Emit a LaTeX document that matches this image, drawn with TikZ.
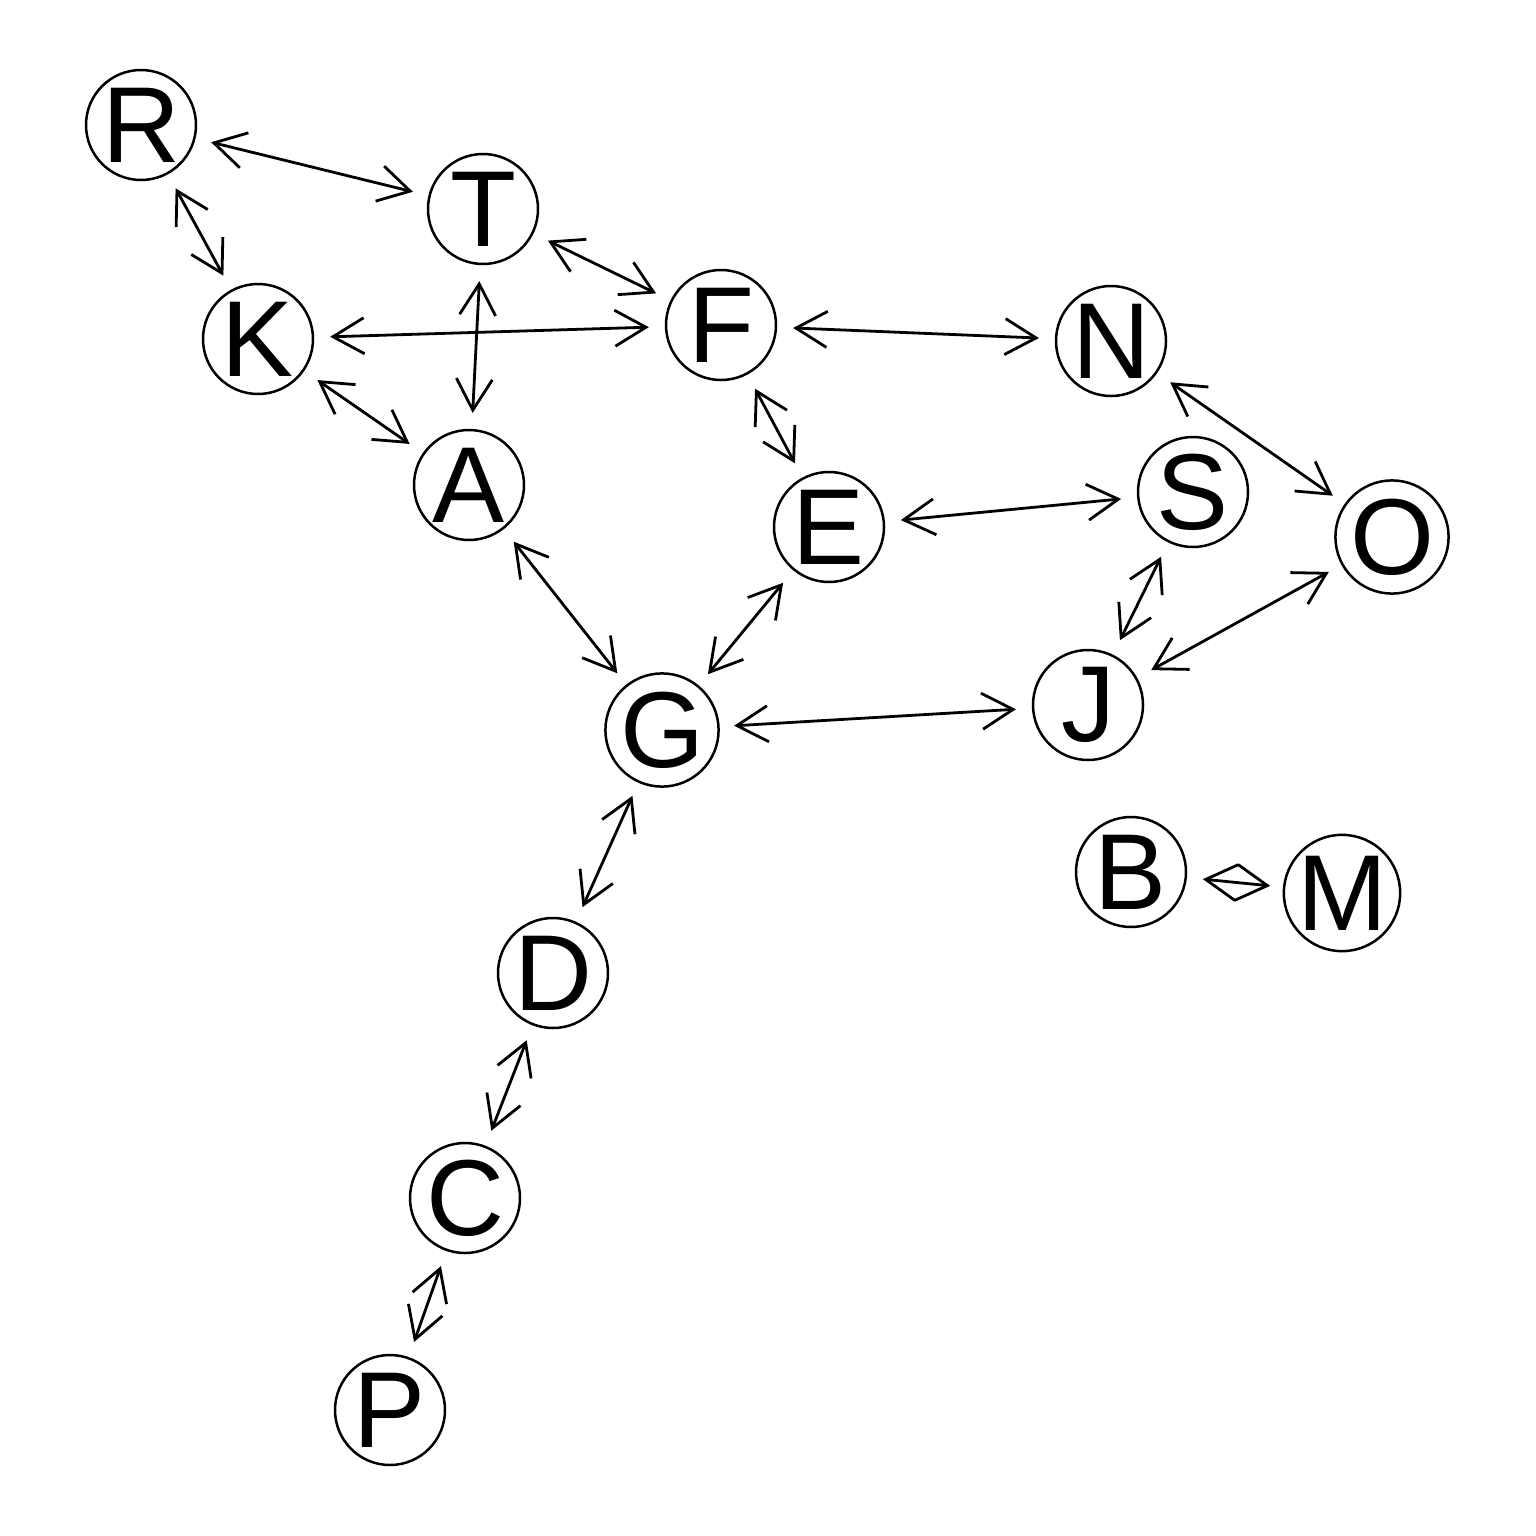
\documentclass[tikz,border=0pt]{standalone}
\usepackage{fontspec}
\setmainfont{Liberation Sans}
\usetikzlibrary{calc}
\newcommand\gedge[2]{%
  \coordinate (t1) at ($(#1)!75pt!(#2)$);
  \coordinate (t2) at ($(#2)!75pt!(#1)$);
  \draw[eline] (t1) -- (t2);
  \draw[eline] ($(t1)!36pt!30:(t2)$) -- (t1) -- ($(t1)!36pt!-30:(t2)$);
  \draw[eline] ($(t2)!36pt!30:(t1)$) -- (t2) -- ($(t2)!36pt!-30:(t1)$);}
\begin{document}
\begin{tikzpicture}[x=1pt,y=-1pt,
  vtx/.style={circle,draw=black,line width=2.5pt,minimum size=110pt,inner sep=0pt,
    font=\fontsize{108}{108}\selectfont},
  eline/.style={line width=2.8pt,line cap=butt,line join=miter}]
\fill[white] (0,0) rectangle (1536,1536);
\useasboundingbox (0,0) rectangle (1536,1536);
\node[vtx] (R) at (141,125) {R};
\node[vtx] (T) at (483,209) {T};
\node[vtx] (K) at (258,339) {K};
\node[vtx] (F) at (721,325) {F};
\node[vtx] (N) at (1111,341) {N};
\node[vtx] (A) at (469,485) {A};
\node[vtx] (E) at (829,527) {E};
\node[vtx] (S) at (1193,492) {S};
\node[vtx] (O) at (1392,537) {O};
\node[vtx] (G) at (662,730) {G};
\node[vtx] (J) at (1088,705) {J};
\node[vtx] (B) at (1131,872) {B};
\node[vtx] (M) at (1342,893) {M};
\node[vtx] (D) at (553,973) {D};
\node[vtx] (C) at (465,1198) {C};
\node[vtx] (P) at (390,1410) {P};
\gedge{R}{T}
\gedge{R}{K}
\gedge{T}{F}
\gedge{T}{A}
\gedge{K}{F}
\gedge{K}{A}
\gedge{F}{N}
\gedge{F}{E}
\gedge{N}{O}
\gedge{E}{S}
\gedge{A}{G}
\gedge{E}{G}
\gedge{S}{J}
\gedge{O}{J}
\gedge{G}{J}
\gedge{G}{D}
\gedge{D}{C}
\gedge{C}{P}
\gedge{B}{M}
\end{tikzpicture}
\end{document}
